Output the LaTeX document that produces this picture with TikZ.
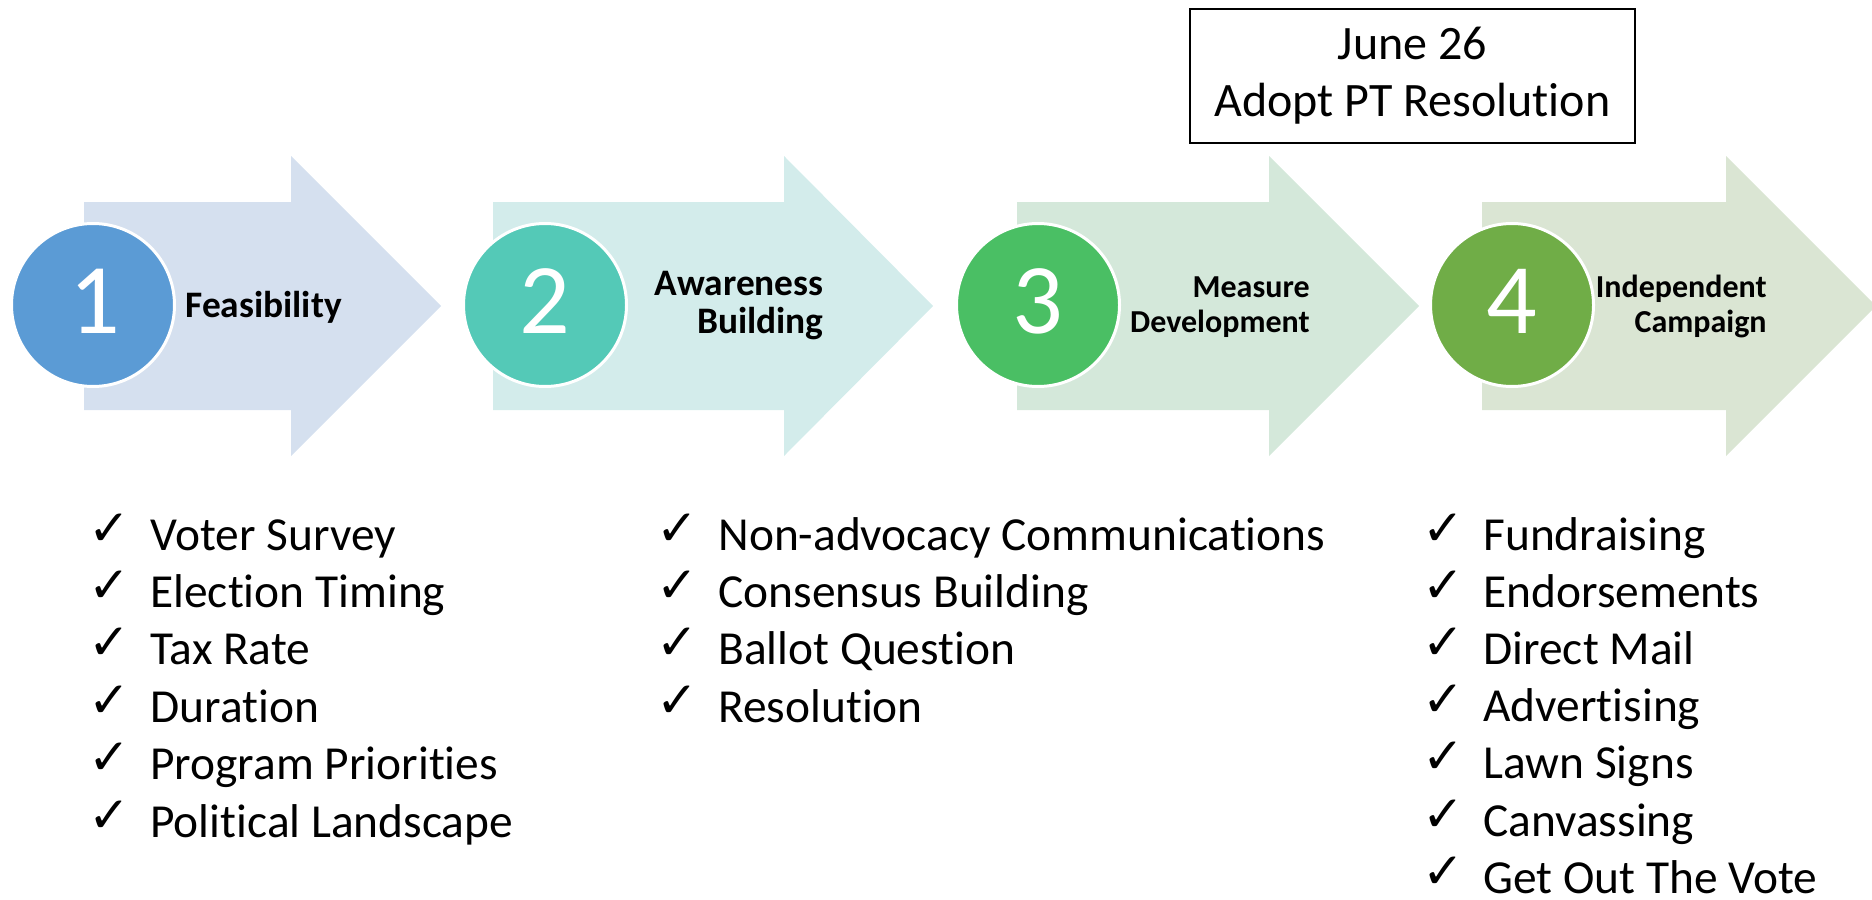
\documentclass[tikz,border=0pt]{standalone}
\usepackage{fontspec}
\setmainfont{Carlito}[Ligatures=NoCommon]
\newfontfamily\chkfont{DejaVu Sans}
\definecolor{arrA}{HTML}{D5E0EF}
\definecolor{arrB}{HTML}{D3ECEB}
\definecolor{arrC}{HTML}{D4E8DA}
\definecolor{arrD}{HTML}{DAE5D3}
\definecolor{cirA}{HTML}{5B9BD5}
\definecolor{cirB}{HTML}{54C9B7}
\definecolor{cirC}{HTML}{4ABF64}
\definecolor{cirD}{HTML}{70AD47}
\tikzset{
  stepnum/.style={circle,draw=white,line width=1.5pt,minimum size=81.5pt,inner sep=0pt},
  digit/.style={anchor=base,text=white,font=\fontsize{50}{60}\selectfont,inner sep=0pt},
  headbig/.style={inner sep=0pt,font=\fontsize{18.7}{22}\selectfont\bfseries},
  headsmall/.style={inner sep=0pt,font=\fontsize{16}{19}\selectfont\bfseries},
  chk/.style={anchor=base west,inner sep=0pt,font=\chkfont\fontsize{25}{30}\selectfont},
  item/.style={anchor=base west,inner sep=0pt,font=\fontsize{23.7}{28}\selectfont},
  datebox/.style={draw=black,line width=1pt,minimum width=222.5pt,minimum height=67pt,inner sep=0pt,align=center,font=\fontsize{24}{28.5}\selectfont}
}
\begin{document}
\begin{tikzpicture}[x=0.5pt,y=-0.5pt]
\useasboundingbox (0,0) rectangle (1872,899);
% arrows
\fill[arrA] (84,202) -- (291,202) -- (291,156) -- (441,306) -- (291,456) -- (291,410) -- (84,410) -- cycle;
\fill[arrB] (493,202) -- (784,202) -- (784,156) -- (933,306) -- (784,456) -- (784,410) -- (493,410) -- cycle;
\fill[arrC] (1017,202) -- (1269,202) -- (1269,156) -- (1419,306) -- (1269,456) -- (1269,410) -- (1017,410) -- cycle;
\fill[arrD] (1482,202) -- (1726,202) -- (1726,156) -- (1876,306) -- (1726,456) -- (1726,410) -- (1482,410) -- cycle;
% circles
\node[stepnum,fill=cirA] (c1) at (93,305) {};
\node[stepnum,fill=cirB] (c2) at (545,305) {};
\node[stepnum,fill=cirC] (c3) at (1038,305) {};
\node[stepnum,fill=cirD] (c4) at (1512,305) {};
\node[digit] (d1) at (95,333) {1};
\node[digit] (d2) at (545,333) {2};
\node[digit] (d3) at (1038,333) {3};
\node[digit] (d4) at (1512,333) {4};
% headings
\node[headbig,anchor=base west] (h1) at (185,317) {Feasibility};
\node[headbig,anchor=base east] (h2a) at (824,295) {Awareness};
\node[headbig,anchor=base east] (h2b) at (824,333) {Building};
\node[headsmall,anchor=base east] (h3a) at (1310,297) {Measure};
\node[headsmall,anchor=base east] (h3b) at (1310,332) {Development};
\node[headsmall,anchor=base east] (h4a) at (1767,297) {Independent};
\node[headsmall,anchor=base east] (h4b) at (1767,332) {Campaign};
% date box
\node[datebox] (box) at (1412.5,76) {June 26\\Adopt PT Resolution};
% lists
\foreach \t [count=\i] in {Voter Survey,Election Timing,Tax Rate,Duration,Program Priorities,Political Landscape}{
  \node[chk] (ka\i) at (88,{550+57.4*(\i-1)-5}) {✓};
  \node[item] (ia\i) at (150,{550+57.4*(\i-1)}) {\t};
}
\foreach \t [count=\i] in {Non-advocacy Communications,Consensus Building,Ballot Question,Resolution}{
  \node[chk] (kb\i) at (656,{550+57.4*(\i-1)-5}) {✓};
  \node[item] (ib\i) at (718,{550+57.4*(\i-1)}) {\t};
}
\foreach \t [count=\i] in {Fundraising,Endorsements,Direct Mail,Advertising,Lawn Signs,Canvassing,Get Out The Vote}{
  \node[chk] (kc\i) at (1422,{550+57.2*(\i-1)-5}) {✓};
  \node[item] (ic\i) at (1483,{550+57.2*(\i-1)}) {\t};
}
\end{tikzpicture}
\end{document}
